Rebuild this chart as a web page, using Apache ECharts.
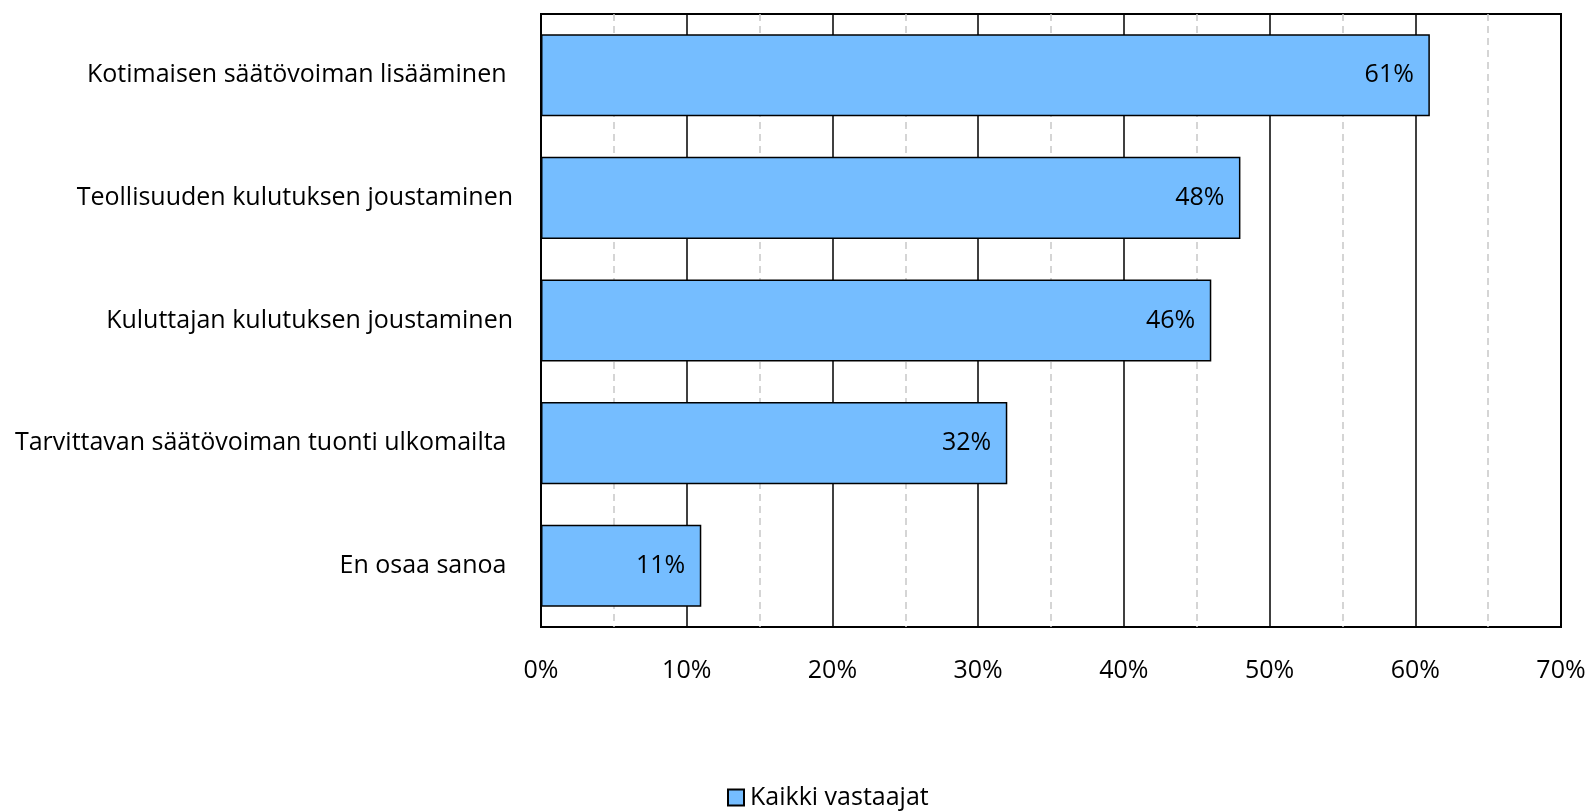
<!DOCTYPE html>
<html>
<head>
<meta charset="utf-8">
<script src="https://cdn.jsdelivr.net/npm/echarts@6/dist/echarts.min.js"></script>
<style>
  html, body { margin: 0; padding: 0; background: #fff; }
  #chart { width: 1589px; height: 811px; }
</style>
</head>
<body>
<div id="chart"></div>
<script>
// Survey answers, one bar per option (percent of all respondents)
const categories = [
  'Kotimaisen säätövoiman lisääminen ',
  'Teollisuuden kulutuksen joustaminen',
  'Kuluttajan kulutuksen joustaminen',
  'Tarvittavan säätövoiman tuonti ulkomailta ',
  'En osaa sanoa '
];
const values = [61, 48, 46, 32, 11];
const seriesName = 'Kaikki vastaajat';
const axisMax = 70;
const axisStep = 10;

const FONT = '"Open Sans", "Noto Sans", sans-serif';
const FS = 25;
const chart = echarts.init(document.getElementById('chart'));

chart.setOption({
  animation: false,
  textStyle: { fontFamily: FONT },
  grid: {
    left: 541, top: 14, right: 28, bottom: 184,
    show: true, borderColor: '#000', borderWidth: 2, backgroundColor: 'transparent'
  },
  legend: {
    bottom: -4,
    left: 722,
    icon: 'rect',
    itemWidth: 16,
    itemHeight: 16,
    itemGap: 6,
    textStyle: { fontFamily: FONT, fontSize: FS, color: '#000', padding: [0, 0, 0, 1] },
    data: [seriesName]
  },
  xAxis: {
    type: 'value',
    min: 0,
    max: axisMax,
    interval: axisStep,
    axisLine: { show: false },
    axisTick: { show: false },
    axisLabel: {
      formatter: v => v + '%',
      fontFamily: FONT, fontSize: FS, color: '#000', margin: 31
    },
    splitLine: { show: true, lineStyle: { color: '#000', width: 1.5 } },
    minorTick: { show: false, splitNumber: 2 },
    minorSplitLine: { show: true, lineStyle: { color: '#c8c8c8', width: 1.5, type: [7, 5] } }
  },
  yAxis: {
    type: 'category',
    inverse: true,
    data: categories,
    axisLine: { show: false },
    axisTick: { show: false },
    axisLabel: { fontFamily: FONT, fontSize: FS, color: '#000', margin: 28 }
  },
  series: [{
    name: seriesName,
    type: 'bar',
    data: values,
    barCategoryGap: '33%',
    itemStyle: { color: '#75BDFF', borderColor: '#000', borderWidth: 1.5 },
    label: {
      show: true,
      position: 'insideRight',
      distance: 16,
      formatter: p => p.value + '%',
      fontFamily: FONT, fontSize: FS, color: '#000'
    }
  }]
});
</script>
</body>
</html>
